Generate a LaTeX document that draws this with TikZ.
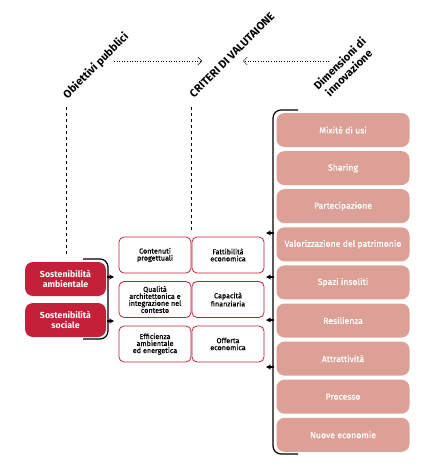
\documentclass[tikz,border=0pt]{standalone}
\usepackage{fontspec}
\setmainfont{Fira Sans}
\newfontfamily\medio[FakeBold=0.8]{Fira Sans}
\usetikzlibrary{arrows.meta}
\definecolor{rosso}{HTML}{C42039}
\definecolor{rosa}{HTML}{DCA096}
\begin{document}
\begin{tikzpicture}[x=1pt,y=-1pt,
    obiettivo/.style={fill=rosso,rounded corners=8pt,minimum width=81pt,minimum height=34pt,text=white,align=center,font=\bfseries\fontsize{8.8}{10.5}\selectfont},
    criterio/.style={draw=rosso,line width=0.8pt,rounded corners=5pt,minimum width=72pt,minimum height=36pt,inner sep=1pt,align=center,font=\medio\fontsize{7.2}{7}\selectfont},
    dimensione/.style={fill=rosa,rounded corners=8pt,minimum width=133pt,minimum height=34pt,text=white,font=\medio\fontsize{8.7}{10}\selectfont},
    titolo/.style={rotate=45,align=center,font=\bfseries\fontsize{11}{13}\selectfont},
    graffa/.style={line width=1.2pt,rounded corners=8pt},
    punta/.style={line width=1.2pt,-{Stealth[length=5pt,width=5pt]}},
    puntini/.style={dash pattern=on 0.8pt off 1.8pt,-{Straight Barb[length=4pt]}}]
    \useasboundingbox (0,0) rectangle (433,471);
    \node[titolo] (obiettivi) at (96,66) {Obiettivi pubblici};
    \node[titolo] (criteri) at (232,55) {CRITERI DI VALUTAIONE};
    \node[titolo] (dimensioni) at (344,68) {Dimensioni di\\innovazione};
    \coordinate (o1) at (114,61);
    \coordinate (c1) at (202,61);
    \coordinate (c2) at (243,61);
    \coordinate (d0) at (329,61);
    \draw[puntini] (o1) -- (c1);
    \draw[puntini] (d0) -- (c2);
    \coordinate (ot) at (66,107);
    \coordinate (ob) at (66,255);
    \coordinate (ct) at (191,107);
    \coordinate (cb) at (191,233);
    \draw[dashed] (ot) -- (ob);
    \draw[dashed] (ct) -- (cb);
    \node[obiettivo] (amb) at (65.5,279) {Sostenibilità\\ambientale};
    \node[obiettivo] (soc) at (65.5,320) {Sostenibilità\\sociale};
    \node[criterio] (contenuti) at (155,255) {Contenuti\\progettuali};
    \node[criterio] (qualita) at (155,299.5) {Qualità\\architettonica e\\integrazione nel\\contesto};
    \node[criterio] (efficienza) at (155,344) {Efficienza\\ambientale\\ed energetica};
    \node[criterio] (fattibilita) at (228,255) {Fattibilità\\economica};
    \node[criterio] (capacita) at (228,299.5) {Capacità\\finanziaria};
    \node[criterio] (offerta) at (228,344) {Offerta\\economica};
    \foreach \t [count=\i] in {Mixitè di usi,Sharing,Partecipazione,Valorizzazione del patrimonio,Spazi insoliti,Resilienza,Attrattività,Processo,Nuove economie}
        \node[dimensione] (dim\i) at (343,{130+(\i-1)*38.1}) {\t};
    \draw[graffa] (83,259) -- (108,259) -- (108,339) -- (83,339);
    \draw[graffa] (298,110) -- (273,110) -- (273,454) -- (298,454);
    \foreach \y in {277,321}
        \draw[punta] (107,\y) -- (114,\y);
    \foreach \y in {233,277,320,367}
        \draw[punta] (274,\y) -- (266,\y);
\end{tikzpicture}
\end{document}
